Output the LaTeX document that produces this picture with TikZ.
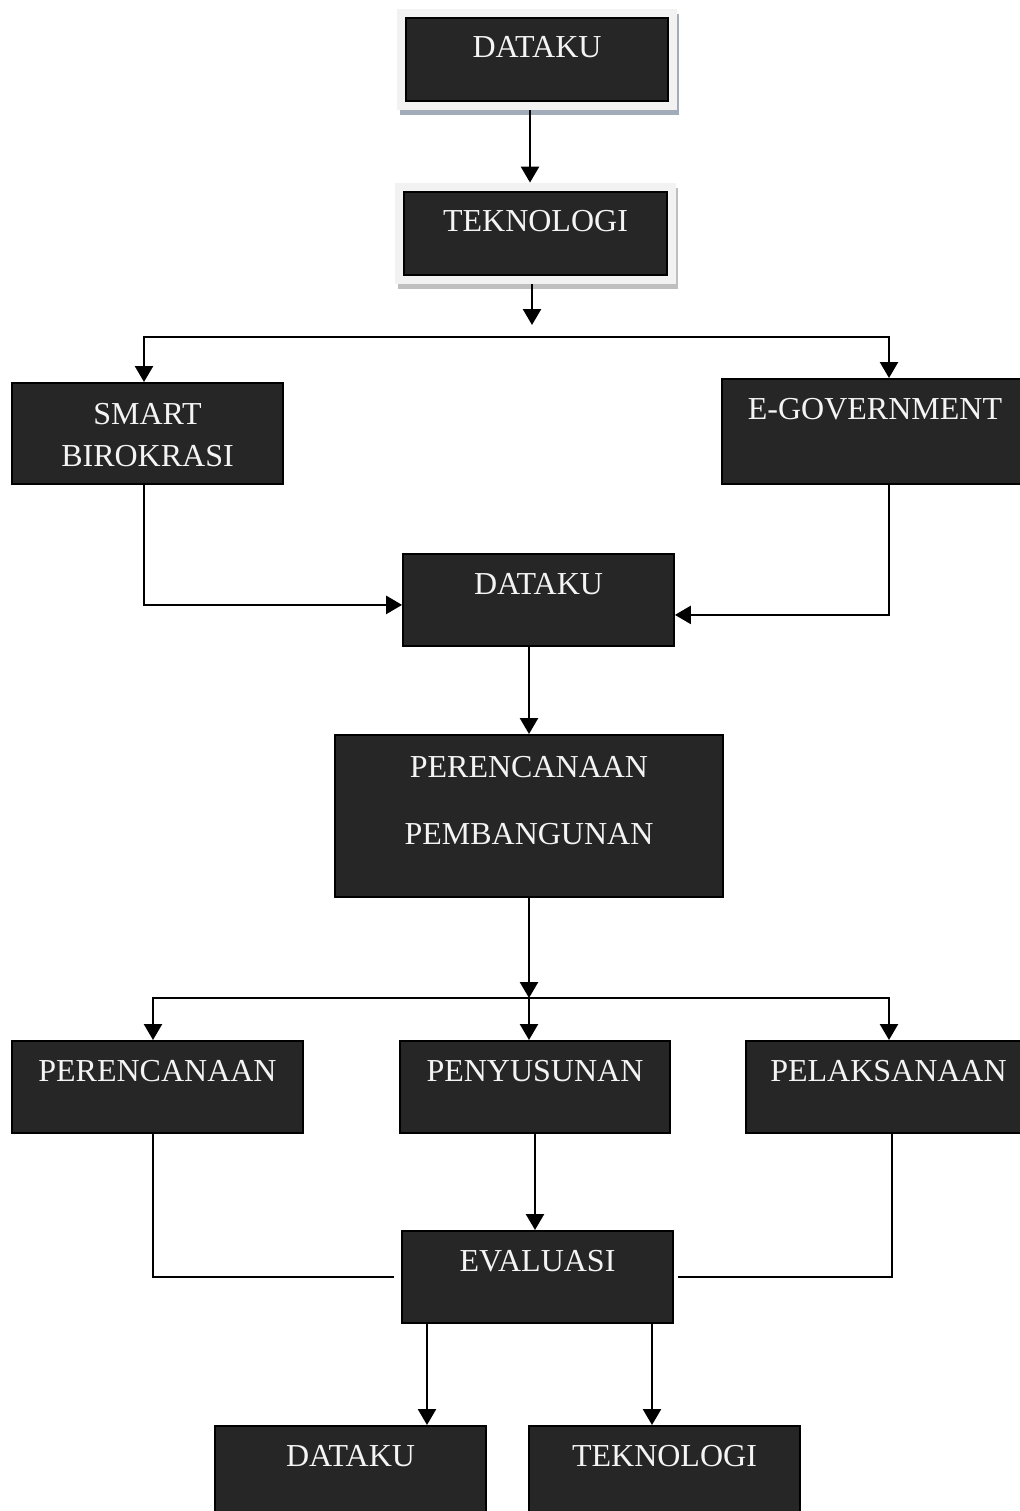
\documentclass[tikz,border=0pt]{standalone}
\usepackage{fontspec}
\setmainfont{Liberation Serif}
\usepackage{tikz}
\usetikzlibrary{arrows.meta, positioning, fit, backgrounds, shadows}
\definecolor{boxdark}{HTML}{262626}
\definecolor{boxtext}{HTML}{F4F4F4}
\definecolor{framegray}{HTML}{F2F2F2}
\definecolor{shadowblue}{HTML}{A2ABB8}
\definecolor{shadowgray}{HTML}{BFBFBF}
\tikzset{
  flowbox/.style={
    draw=black, line width=0.9pt, fill=boxdark, text=boxtext,
    font=\fontsize{16pt}{21pt}\selectfont, align=center,
    inner sep=0pt, anchor=north, text height=20.5pt, text depth=25.5pt
  },
  framebg/.style={
    fill=framegray, inner sep=4pt,
    drop shadow={shadow xshift=1.25pt, shadow yshift=-2.5pt, fill=#1, opacity=1}
  },
  flowarrow/.style={->, line width=1.25pt},
  flowline/.style={line width=1.1pt},
}

\begin{document}
\begin{tikzpicture}[x=0.5pt, y=-0.5pt, >={Triangle[width=9pt,length=8pt]}]
  \begin{scope}[on background layer]
    \fill[white] (0,0) rectangle (1019,1511);
  \end{scope}
  \useasboundingbox (0,0) rectangle (1019,1511);

  \node[flowbox, minimum width=131pt, text height=20pt, text depth=21.5pt] (datakuTop) at (537,17) {DATAKU};
  \node[flowbox, minimum width=131.5pt, text height=20pt, text depth=21.5pt] (teknoTop) at (535.5,191) {TEKNOLOGI};

  \node[flowbox, minimum width=135.5pt, text height=42pt, text depth=8.5pt] (smart) at (147.5,382) {SMART\\BIROKRASI};
  \node[flowbox, minimum width=153pt, text depth=32pt] (egov) at (875,378) {E-GOVERNMENT};
  \node[flowbox, minimum width=135.5pt] (datakuMid) at (538.5,553) {DATAKU};

  \node[flowbox, minimum width=194pt, font=\fontsize{16pt}{33.5pt}\selectfont, text height=55pt, text depth=26pt] (pembangunan) at (529,734) {PERENCANAAN\\PEMBANGUNAN};

  \node[flowbox, minimum width=145.5pt] (perencanaan) at (157.5,1040) {PERENCANAAN};
  \node[flowbox, minimum width=135pt] (penyusunan) at (535,1040) {PENYUSUNAN};
  \node[flowbox, minimum width=142.5pt] (pelaksanaan) at (888.5,1040) {PELAKSANAAN};

  \node[flowbox, minimum width=135.5pt] (evaluasi) at (537.5,1230) {EVALUASI};

  \node[flowbox, minimum width=135.5pt] (datakuBot) at (350.5,1425) {DATAKU};
  \node[flowbox, minimum width=135.5pt] (teknoBot) at (664.5,1425) {TEKNOLOGI};

  \begin{scope}[on background layer]
    \node[framebg=shadowblue, fit=(datakuTop)] (datakuTopFrame) {};
    \node[framebg=shadowgray, fit=(teknoTop)] (teknoTopFrame) {};
  \end{scope}

  \coordinate (teknoEnd) at (532,325);
  \coordinate (splitL) at (144,337);
  \coordinate (splitR) at (889,337);
  \coordinate (planSplit) at (529,998);
  \coordinate (planL) at (153,998);
  \coordinate (planR) at (889,998);

  \draw[flowarrow] ([xshift=-3.5pt]datakuTopFrame.south) -- ([xshift=-3.5pt]datakuTopFrame.south |- teknoTopFrame.north);
  \draw[flowarrow] (teknoTopFrame.south -| teknoEnd) -- (teknoEnd);
  \draw[flowarrow, <->] (splitL |- smart.north) -- (splitL) -- (splitR) -- (splitR |- egov.north);
  \draw[flowarrow] (smart.south -| splitL) |- ([yshift=-2.5pt]datakuMid.west);
  \draw[flowarrow] (egov.south -| splitR) |- ([yshift=-7.5pt]datakuMid.east);
  \draw[flowarrow] (datakuMid.south -| pembangunan.north) -- (pembangunan.north);
  \draw[flowarrow] (pembangunan.south) -- (planSplit);
  \draw[flowarrow] (planSplit) -- (planSplit |- penyusunan.north);
  \draw[flowarrow, <->] (planL |- perencanaan.north) -- (planL) -- (planR) -- (planR |- pelaksanaan.north);
  \draw[flowarrow] (penyusunan.south) -- (penyusunan.south |- evaluasi.north);
  \draw[flowline] (perencanaan.south -| planL) |- ([xshift=-3.5pt]evaluasi.west);
  \draw[flowline] ([xshift=1.75pt]pelaksanaan.south) |- ([xshift=2pt]evaluasi.east);
  \draw[flowarrow] ([xshift=-55.25pt]evaluasi.south) -- ([xshift=-55.25pt]evaluasi.south |- datakuBot.north);
  \draw[flowarrow] ([xshift=57.25pt]evaluasi.south) -- ([xshift=57.25pt]evaluasi.south |- teknoBot.north);
\end{tikzpicture}
\end{document}
